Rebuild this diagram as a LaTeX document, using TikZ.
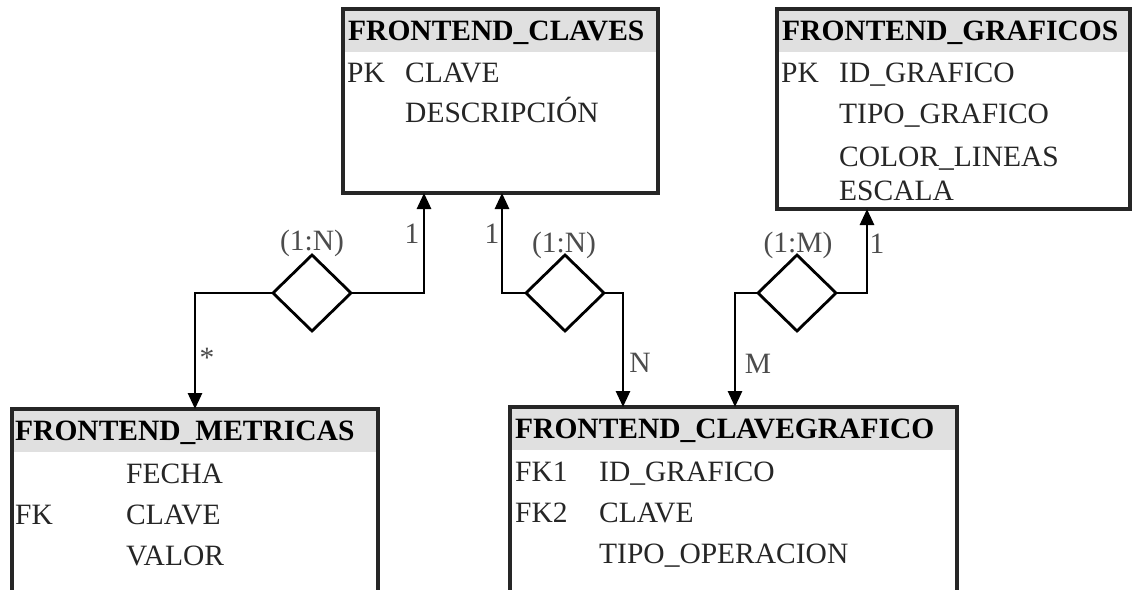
\documentclass[tikz,border=0pt]{standalone}
\usepackage{fontspec}
\setmainfont{Liberation Serif}
\usetikzlibrary{arrows.meta,shapes.geometric}
\begin{document}
\begin{tikzpicture}[x=1pt,y=-1pt,
  tbl/.style={rectangle, draw=black!85, line width=3.2pt, fill=white, inner sep=0pt, outer sep=0pt,
    path picture={\fill[black!12] (path picture bounding box.north west) rectangle ([yshift=-43pt]path picture bounding box.north east);}},
  ttl/.style={anchor=base west, inner sep=0pt, font=\bfseries\fontsize{29.5}{34}\selectfont, text=black},
  fld/.style={anchor=base west, inner sep=0pt, font=\fontsize{29.5}{34}\selectfont, text=black!85},
  lbl/.style={anchor=base, inner sep=0pt, font=\fontsize{29.5}{34}\selectfont, text=black!70},
  rel/.style={diamond, draw=black, line width=2.8pt, fill=white, inner sep=0pt, outer sep=0pt, minimum width=78pt, minimum height=76pt},
  conn/.style={draw=black, line width=2.8pt, -{Triangle[length=16pt,width=14pt]}}
]
\useasboundingbox (0,0) rectangle (1135,589);
\clip (0,0) rectangle (1135,589);

% tables
\node[tbl, minimum width=315pt, minimum height=184pt] (claves) at (500.5,101) {};
\node[tbl, minimum width=353pt, minimum height=200pt] (graficos) at (953.5,109) {};
\node[tbl, minimum width=366pt, minimum height=212pt] (metricas) at (195,515) {};
\node[tbl, minimum width=447pt, minimum height=213pt] (clavegrafico) at (733.5,513.5) {};

% FRONTEND_CLAVES
\node[ttl] (t1) at (348,40) {FRONTEND\_CLAVES};
\node[fld] (c1k) at (347,82) {PK};
\node[fld] (c1a) at (405,82) {CLAVE};
\node[fld] (c1b) at (405,122) {DESCRIPCIÓN};

% FRONTEND_GRAFICOS
\node[ttl] (t2) at (782,40) {FRONTEND\_GRAFICOS};
\node[fld] (g1k) at (781,82) {PK};
\node[fld] (g1a) at (839,82) {ID\_GRAFICO};
\node[fld] (g1b) at (839,123) {TIPO\_GRAFICO};
\node[fld] (g1c) at (839,166) {COLOR\_LINEAS};
\node[fld] (g1d) at (839,200) {ESCALA};

% FRONTEND_METRICAS
\node[ttl] (t3) at (15,440) {FRONTEND\_METRICAS};
\node[fld] (m1a) at (126,483) {FECHA};
\node[fld] (m1k) at (15,524) {FK};
\node[fld] (m1b) at (126,524) {CLAVE};
\node[fld] (m1c) at (126,565) {VALOR};

% FRONTEND_CLAVEGRAFICO
\node[ttl] (t4) at (515,438) {FRONTEND\_CLAVEGRAFICO};
\node[fld] (k1k) at (515,481) {FK1};
\node[fld] (k1a) at (599,481) {ID\_GRAFICO};
\node[fld] (k2k) at (515,522) {FK2};
\node[fld] (k2a) at (599,522) {CLAVE};
\node[fld] (k3a) at (599,563) {TIPO\_OPERACION};

% relationships
\node[rel] (d1) at (312,293) {};
\node[rel] (d2) at (565,293) {};
\node[rel] (d3) at (797,293) {};

\coordinate (x1) at (424,0);
\coordinate (x2) at (195,0);
\coordinate (x3) at (502,0);
\coordinate (x4) at (623,0);
\coordinate (x5) at (735,0);
\coordinate (x6) at (867,0);

\draw[conn] (d1.east) -| (claves.south -| x1);
\draw[conn] (d1.west) -| (metricas.north -| x2);
\draw[conn] (d2.west) -| (claves.south -| x3);
\draw[conn] (d2.east) -| (clavegrafico.north -| x4);
\draw[conn] (d3.west) -| (clavegrafico.north -| x5);
\draw[conn] (d3.east) -| (graficos.south -| x6);

% labels
\node[lbl] (l1) at (312,250) {(1:N)};
\node[lbl] (l2) at (412,243) {1};
\node[lbl] (l3) at (207,367) {*};
\node[lbl] (l4) at (564,252) {(1:N)};
\node[lbl] (l5) at (492,243) {1};
\node[lbl] (l6) at (640,372) {N};
\node[lbl] (l7) at (798,252) {(1:M)};
\node[lbl] (l8) at (877,253) {1};
\node[lbl] (l9) at (758,373) {M};
\end{tikzpicture}
\end{document}
